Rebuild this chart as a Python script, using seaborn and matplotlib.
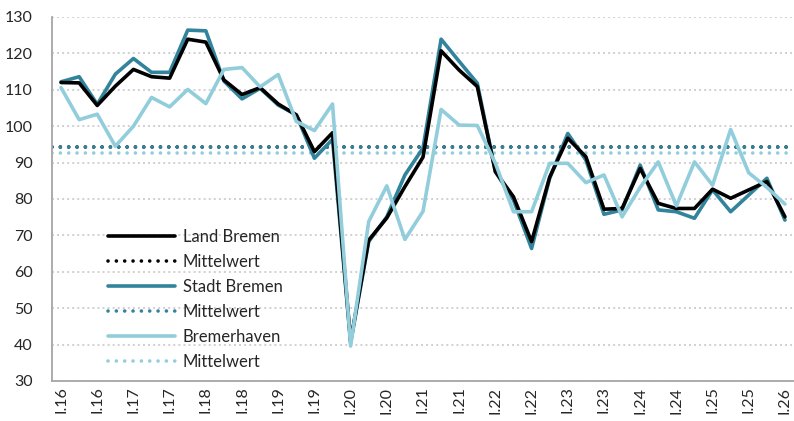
import matplotlib
matplotlib.use('Agg')
import matplotlib.pyplot as plt
import seaborn as sns
import numpy as np

# Quartale I.16 ... I.26 (41 Werte), Beschriftung jedes zweite Quartal
quarters = list(range(41))
tick_labels = ['I.16', 'I.16', 'I.17', 'I.17', 'I.18', 'I.18', 'I.19', 'I.19',
               'I.20', 'I.20', 'I.21', 'I.21', 'I.22', 'I.22', 'I.23', 'I.23',
               'I.24', 'I.24', 'I.25', 'I.25', 'I.26']

land_bremen = [112.0, 111.9, 105.7, 111.0, 115.6, 113.6, 113.2, 123.9, 123.1, 112.7,
               108.7, 110.6, 106.1, 103.1, 93.0, 98.2, 41.0, 68.7, 74.8, 83.4,
               91.5, 120.7, 115.4, 110.9, 87.5, 80.6, 68.3, 86.0, 96.7, 91.6,
               77.2, 77.4, 88.4, 78.8, 77.4, 77.4, 82.7, 80.2, 82.5, 84.8, 75.1]

stadt_bremen = [112.2, 113.6, 106.0, 114.3, 118.6, 114.8, 114.8, 126.4, 126.2, 112.4,
                107.5, 110.4, 105.8, 103.1, 91.2, 96.4, 40.5, 68.3, 75.1, 86.6,
                94.0, 123.9, 117.8, 111.8, 87.5, 79.7, 66.4, 85.7, 98.0, 90.7,
                75.8, 77.0, 89.3, 77.0, 76.5, 74.7, 82.5, 76.5, 81.1, 85.7, 74.2]

bremerhaven = [110.6, 101.8, 103.3, 94.5, 100.0, 107.9, 105.3, 110.1, 106.2, 115.6,
               116.1, 110.8, 114.2, 101.3, 98.8, 106.1, 39.6, 73.8, 83.6, 68.9,
               76.6, 104.6, 100.3, 100.2, 89.8, 76.5, 76.5, 89.8, 89.8, 84.5,
               86.6, 75.1, 83.2, 90.2, 78.1, 90.2, 83.8, 99.1, 87.2, 83.2, 78.6]

mean_land = 94.2
mean_stadt = 94.3
mean_bhv = 92.6

c_land = '#000000'
c_stadt = '#31849b'
c_bhv = '#92cddc'

sns.set_style('white')
plt.rcParams['font.family'] = ['Lato', 'DejaVu Sans']

fig = plt.figure(figsize=(7.94, 4.21), dpi=100)
ax = fig.add_axes([52/794, 40/421, 742/794, 364/421])

lw = 2.6
dots = (0, (0.01, 2.3))

h1 = ax.axhline(mean_land, color=c_land, lw=lw, linestyle=dots, dash_capstyle='round', label='Mittelwert', zorder=2)
h2 = ax.axhline(mean_stadt, color=c_stadt, lw=lw, linestyle=dots, dash_capstyle='round', label='Mittelwert', zorder=2)
h3 = ax.axhline(mean_bhv, color=c_bhv, lw=lw, linestyle=dots, dash_capstyle='round', label='Mittelwert', zorder=2)

sns.lineplot(x=quarters, y=stadt_bremen, ax=ax, color=c_stadt, lw=lw, label='Stadt Bremen', zorder=3)
sns.lineplot(x=quarters, y=land_bremen, ax=ax, color=c_land, lw=lw, label='Land Bremen', zorder=4)
sns.lineplot(x=quarters, y=bremerhaven, ax=ax, color=c_bhv, lw=lw, label='Bremerhaven', zorder=5)

lines = {l.get_label(): l for l in ax.get_lines()}
handles = [lines['Land Bremen'], h1, lines['Stadt Bremen'], h2, lines['Bremerhaven'], h3]
labels = ['Land Bremen', 'Mittelwert', 'Stadt Bremen', 'Mittelwert', 'Bremerhaven', 'Mittelwert']
ax.legend(handles, labels, loc='upper left', bbox_to_anchor=(0.0755, 0.418),
          frameon=False, fontsize=12, handlelength=4.0, handletextpad=0.48,
          labelspacing=0.54, borderpad=0, borderaxespad=0)

ax.set_xlim(-0.5, 40.5)
ax.set_ylim(30, 130)
ax.set_yticks(range(30, 131, 10))
ax.set_xticks(quarters[::2])
ax.set_xticklabels(tick_labels, rotation=90, va='top', ha='center')
ax.set_xticks(np.arange(-0.5, 41, 1), minor=True)
ax.tick_params(axis='x', which='major', length=0, pad=4, labelsize=11.5, colors='#262626')
ax.tick_params(axis='x', which='minor', length=4, width=1, color='#a6a6a6', direction='out')
ax.tick_params(axis='y', length=4, width=1, color='#a6a6a6', direction='out', pad=10,
               labelsize=11.5, labelcolor='#262626')
ax.yaxis.grid(True, color='#d0d0d0', linestyle=(0, (1, 1.6)), lw=1.4, zorder=0)
ax.xaxis.grid(False)
ax.set_axisbelow(True)
ax.set_xlabel('')
ax.set_ylabel('')

for side in ['top', 'right']:
    ax.spines[side].set_visible(False)
for side in ['left', 'bottom']:
    ax.spines[side].set_color('#a6a6a6')
    ax.spines[side].set_linewidth(1.3)

fig.savefig('out.png', dpi=100)
